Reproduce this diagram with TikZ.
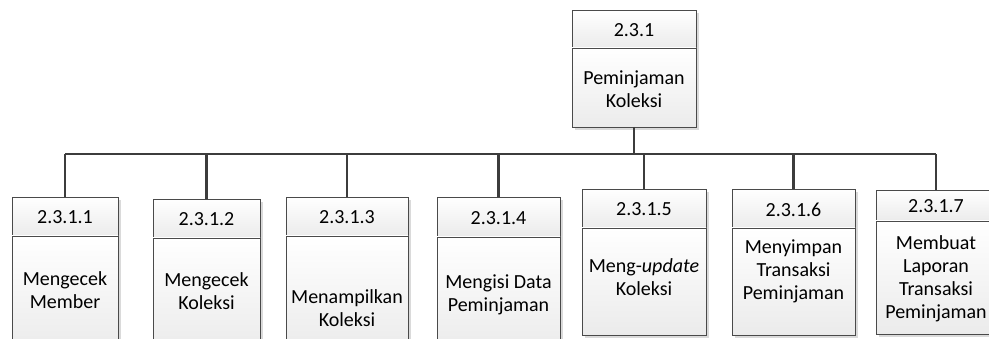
\documentclass[tikz,border=0pt]{standalone}
\usepackage{fontspec}
\setmainfont{Carlito}
\definecolor{boxline}{HTML}{4A4A4A}
\definecolor{boxbottom}{HTML}{EBEBEB}
\definecolor{shadowgray}{HTML}{DADADA}
\definecolor{connline}{HTML}{3C3C3C}
\tikzset{
  cellbox/.style={draw=boxline, line width=0.9pt, top color=white, bottom color=boxbottom,
    inner sep=0pt, outer sep=0pt, anchor=north west},
  numtext/.style={inner sep=0pt, font=\fontsize{20}{23}\selectfont},
  bodytext/.style={inner sep=0pt, align=center, font=\fontsize{20}{23}\selectfont},
  conn/.style={draw=connline, line width=2.4pt}
}
% #1 name, #2 left, #3 right, #4 top, #5 divider, #6 bottom,
% #7 number, #8 body text centre y, #9 body text
\newcommand\wbsitem[9]{%
  \fill[shadowgray] (#2+3,#4+3) rectangle (#3+3,#6+3);
  \node[cellbox, minimum width=#3-#2, minimum height=#5-#4] (#1h) at (#2,#4) {};
  \node[cellbox, minimum width=#3-#2, minimum height=#6-#5] (#1b) at (#2,#5) {};
  \node[numtext] (#1n) at ({(#2+#3)/2},{(#4+#5)/2+1}) {#7};
  \node[bodytext] (#1t) at ({(#2+#3)/2},#8) {#9};
}
\begin{document}
\begin{tikzpicture}[x=1pt,y=-1pt]
\clip (0,0) rectangle (989,339);
\fill[white] (0,0) rectangle (989,339);

% root process
\wbsitem{root}{572}{696}{10}{48}{127}{2.3.1}{89}{Peminjaman\\Koleksi}

% sub-processes
\wbsitem{c1}{12}{118}{197}{236}{350}{2.3.1.1}{290}{Mengecek\\Member}
\wbsitem{c2}{153}{260}{199}{238}{350}{2.3.1.2}{291}{Mengecek\\Koleksi}
\wbsitem{c3}{286}{408}{197}{236}{350}{2.3.1.3}{308}{Menampilkan\\Koleksi}
\wbsitem{c4}{437}{560}{197}{237}{350}{2.3.1.4}{295}{Mengisi Data\\Peminjaman}
\wbsitem{c5}{582}{706}{189}{228}{335}{2.3.1.5}{277}{Meng-\textit{update}\\Koleksi}
\wbsitem{c6}{732}{855}{189}{228}{335}{2.3.1.6}{271}{Menyimpan\\Transaksi\\Peminjaman}
\wbsitem{c7}{876}{996}{190}{221}{334}{2.3.1.7}{279}{Membuat\\Laporan\\Transaksi\\Peminjaman}

% connectors
\coordinate (bus) at (0,154);
\draw[conn] (rootb.south) -- (rootb.south |- bus);
\draw[conn] (c1h.north |- bus) -- (c7h.north |- bus);
\foreach \c in {c1,c2,c3,c4,c5,c6,c7}
  \draw[conn] (\c h.north) -- (\c h.north |- bus);
\end{tikzpicture}
\end{document}
